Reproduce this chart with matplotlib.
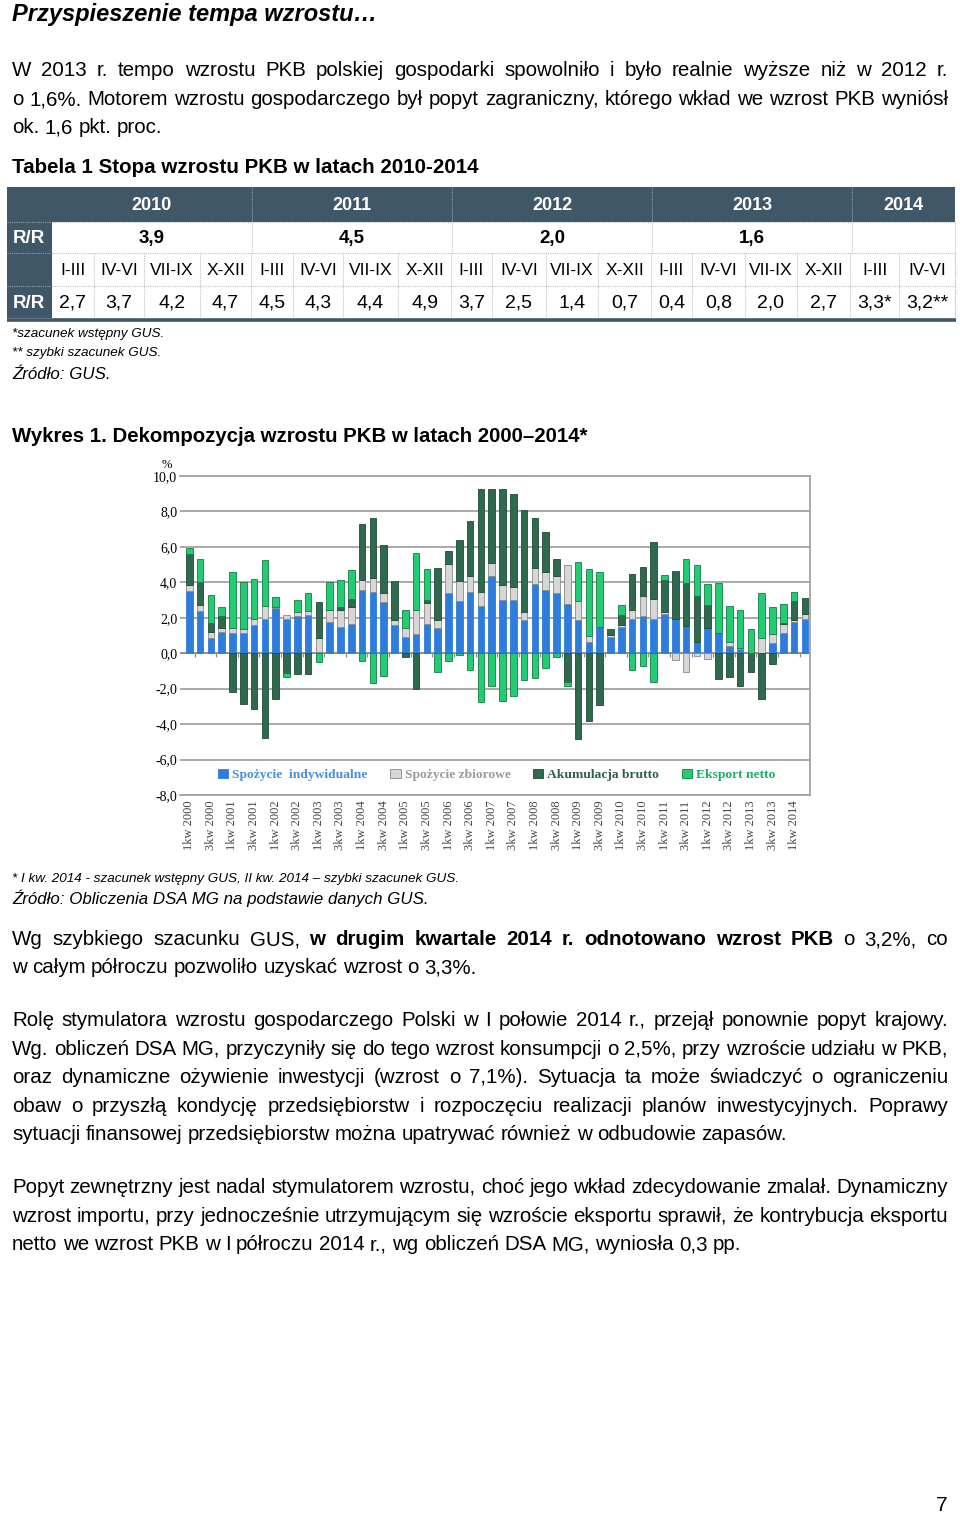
import numpy as np
import matplotlib
matplotlib.use('Agg')
import matplotlib.pyplot as plt
from matplotlib.patches import Rectangle

# ---------------- data ----------------
tick_labels = ["1kw 2000", "3kw 2000", "1kw 2001", "3kw 2001", "1kw 2002", "3kw 2002",
               "1kw 2003", "3kw 2003", "1kw 2004", "3kw 2004", "1kw 2005", "3kw 2005",
               "1kw 2006", "3kw 2006", "1kw 2007", "3kw 2007", "1kw 2008", "3kw 2008",
               "1kw 2009", "3kw 2009", "1kw 2010", "3kw 2010", "1kw 2011", "3kw 2011",
               "1kw 2012", "3kw 2012", "1kw 2013", "3kw 2013", "1kw 2014"]
n_quarters = 58

spozycie_ind = [3.5, 2.4, 0.88, 1.17, 1.13, 1.13, 1.57, 1.94, 2.55, 1.93, 2.1, 2.13, 0.05, 1.78,
                1.5, 1.64, 3.54, 3.45, 2.88, 1.58, 0.92, 1.1, 1.64, 1.42, 3.4, 2.96, 3.47, 2.68,
                4.36, 2.98, 2.98, 1.85, 3.89, 3.57, 3.4, 2.75, 1.85, 0.66, 1.47, 0.9, 1.5, 1.94,
                2.09, 1.91, 2.2, 1.91, 1.51, 0.62, 1.43, 1.15, 0.4, 0.22, 0.0, 0.0, 0.57, 1.13,
                1.75, 1.91]
spozycie_zb = [0.35, 0.3, 0.34, 0.26, 0.28, 0.25, 0.37, 0.7, 0.05, 0.25, 0.25, 0.27, 0.83, 0.67,
               0.93, 0.98, 0.6, 0.78, 0.5, 0.32, 0.53, 1.33, 1.22, 0.47, 1.66, 1.1, 0.9, 0.76,
               0.75, 0.85, 0.76, 0.47, 0.94, 1.0, 0.98, 2.21, 1.09, 0.3, 0.0, 0.15, 0.12, 0.5,
               1.15, 1.17, 0.12, -0.38, -1.04, -0.13, -0.32, 0.0, 0.22, 0.06, 0.0, 0.88, 0.49,
               0.5, 0.13, 0.32]
akumulacja = [1.75, 1.3, 0.47, 0.66, -2.2, -2.87, -3.15, -4.81, -2.6, -1.13, -1.2, -1.17, 2.0, 0.0,
              0.2, 0.44, 3.15, 3.42, 2.7, 2.15, -0.22, -2.03, 0.12, 2.92, 0.7, 2.33, 3.1, 5.83,
              4.15, 5.43, 5.24, 5.76, 2.81, 2.27, 0.95, -1.64, -4.85, -3.81, -2.92, 0.32, 0.55,
              2.04, 1.62, 3.17, 1.8, 2.71, 2.45, 2.63, 1.27, -1.47, -1.32, -1.83, -1.04, -2.57,
              -0.6, 0.08, 1.08, 0.9]
eksport = [0.35, 1.3, 1.6, 0.53, 3.16, 2.62, 2.26, 2.62, 0.55, -0.19, 0.65, 0.98, -0.5, 1.55,
           1.52, 1.62, -0.42, -1.68, -1.27, 0.0, 0.99, 3.25, 1.75, -1.08, -0.42, -0.12, -0.95,
           -2.77, -1.83, -2.72, -2.43, -1.51, -1.4, -0.83, -0.2, -0.19, 2.21, 3.79, 3.1, 0.0,
           0.57, -0.92, -0.74, -1.6, 0.3, 0.0, 1.36, 1.73, 1.22, 2.8, 2.02, 2.17, 1.38, 2.5,
           1.55, 1.05, 0.49, 0.0]
series_names = ["Spożycie  indywidualne", "Spożycie zbiorowe", "Akumulacja brutto", "Eksport netto"]

table_years = ["2010", "2011", "2012", "2013", "2014"]
table_annual = ["3,9", "4,5", "2,0", "1,6", ""]
table_quarters = ["I-III", "IV-VI", "VII-IX", "X-XII"] * 4 + ["I-III", "IV-VI"]
table_qvalues = ["2,7", "3,7", "4,2", "4,7", "4,5", "4,3", "4,4", "4,9", "3,7", "2,5", "1,4",
                 "0,7", "0,4", "0,8", "2,0", "2,7", "3,3*", "3,2**"]

# ---------------- fonts ----------------
SANS = ['Liberation Sans', 'DejaVu Sans']
SERIF = ['Liberation Serif', 'DejaVu Serif']

W, H = 960, 1514
fig = plt.figure(figsize=(W / 100, H / 100), dpi=100)
page = fig.add_axes([0, 0, 1, 1])
page.set_xlim(0, W)
page.set_ylim(H, 0)
page.axis('off')
renderer = fig.canvas.get_renderer()


def txt(x, y, s, size, weight='normal', style='normal', ha='left', va='baseline', color='black',
        family=None):
    return page.text(x, y, s, fontsize=size, fontweight=weight, fontstyle=style, ha=ha, va=va,
                     color=color, family=family or SANS)


def line(runs, y, size, justify, x0=12, x1=948):
    words = []
    for s, w in runs:
        for t in s.split():
            words.append((t, w))
    objs = [txt(0, y, t, size, weight=w) for t, w in words]
    widths = [o.get_window_extent(renderer).width for o in objs]
    total = sum(widths)
    if justify and len(objs) > 1:
        gap = (x1 - x0 - total) / (len(objs) - 1)
    else:
        gap = 0.26 * size * 100 / 72
    x = x0
    for o, wd in zip(objs, widths):
        o.set_x(x)
        x += wd + gap


BODY = 14.8
# title
txt(12, 21, "Przyspieszenie tempa wzrostu…", 17, weight='bold', style='italic')
# paragraph 1
line([("W 2013 r. tempo wzrostu PKB polskiej gospodarki spowolniło i było realnie wyższe niż w 2012 r.", 'normal')], 76, BODY, True)
line([("o 1,6%. Motorem wzrostu gospodarczego był popyt zagraniczny, którego wkład we wzrost PKB wyniósł", 'normal')], 105, BODY, True)
line([("ok. 1,6 pkt. proc.", 'normal')], 133, BODY, False)
txt(12, 173, "Tabela 1 Stopa wzrostu PKB w latach 2010-2014", 14.75, weight='bold')

# ---------------- table ----------------
DARK = '#405767'
GRID = '#b9c3c9'
qb = [52, 94, 144, 200, 251, 293, 343, 398, 451, 492, 546, 598, 651, 692, 745, 797, 850, 899, 955]
yb = [252, 452, 652, 852]
r0, r1, r2, r3, r4 = 187, 222, 253, 286, 318
page.add_patch(Rectangle((7, r0), 955 - 7, r1 - r0, color=DARK, lw=0))
page.add_patch(Rectangle((7, r0), 52 - 7, r4 - r0, color=DARK, lw=0))
for xv in yb:
    page.plot([xv, xv], [r0, r1], color='#8fa0ab', lw=0.8, ls=(0, (1, 1)))
    page.plot([xv, xv], [r1, r2], color=GRID, lw=0.8, ls=(0, (1, 1)))
for xv in qb[1:]:
    page.plot([xv, xv], [r2, r4], color=GRID, lw=0.8, ls=(0, (1, 1)))
page.plot([955, 955], [r1, r4], color=GRID, lw=0.8, ls=(0, (1, 1)))
for yv in (r1, r2, r3):
    page.plot([52, 955], [yv, yv], color=GRID, lw=0.8, ls=(0, (1, 1)))
    page.plot([7, 52], [yv, yv], color='#8fa0ab', lw=0.8, ls=(0, (1, 1)))
page.plot([7, 956], [r4 + 1.5, r4 + 1.5], color=DARK, lw=2.6, solid_capstyle='butt')

ycent = [(r0 + r1) / 2, (r1 + r2) / 2, (r2 + r3) / 2, (r3 + r4) / 2]
year_edges = [52] + yb + [955]
for i, ylab in enumerate(table_years):
    xc = (year_edges[i] + year_edges[i + 1]) / 2
    txt(xc, ycent[0] + 1, ylab, 13, weight='bold', color='white', ha='center', va='center')
    if table_annual[i]:
        txt(xc, ycent[1] + 1, table_annual[i], 13.5, weight='bold', ha='center', va='center')
txt(29, ycent[1] + 1, "R/R", 13.5, weight='bold', color='white', ha='center', va='center')
txt(29, ycent[3] + 1, "R/R", 13.5, weight='bold', color='white', ha='center', va='center')
for i in range(len(table_quarters)):
    xc = (qb[i] + qb[i + 1]) / 2
    txt(xc, ycent[2] + 1, table_quarters[i], 12.5, ha='center', va='center')
    txt(xc, ycent[3] + 1, table_qvalues[i], 14, ha='center', va='center')

txt(12, 337, "*szacunek wstępny GUS.", 9.7, style='italic')
txt(12, 356, "** szybki szacunek GUS.", 9.7, style='italic')
txt(12, 379, "Źródło: GUS.", 12.2, style='italic')

txt(12, 442, "Wykres 1. Dekompozycja wzrostu PKB w latach 2000–2014*", 14.7, weight='bold')

# ---------------- chart ----------------
ax = fig.add_axes([180 / W, 1 - 795 / H, 630 / W, (795 - 476) / H])
x = np.arange(n_quarters)
data = [np.array(spozycie_ind), np.array(spozycie_zb), np.array(akumulacja), np.array(eksport)]
colors = ['#2e7ddc', '#d6d6d6', '#2f6a4f', '#22cc72']
edges = ['#2e7ddc', '#8a8a8a', '#1f4a36', '#177a45']
text_colors = ['#4b8fd8', '#9a9a9a', '#2f5f48', '#1cae66']
pos_base = np.zeros(n_quarters)
neg_base = np.zeros(n_quarters)
handles = []
for vals, c, ec, name in zip(data, colors, edges, series_names):
    bottoms = np.where(vals >= 0, pos_base, neg_base)
    b = ax.bar(x, vals, bottom=bottoms, width=0.62, color=c, edgecolor=ec, linewidth=0.6,
               label=name, zorder=3)
    handles.append(b)
    pos_base = pos_base + np.where(vals >= 0, vals, 0)
    neg_base = neg_base + np.where(vals < 0, vals, 0)

ax.set_xlim(-0.86, 57.47)
ax.set_ylim(-8, 10)
yt = np.arange(-8, 11, 2)
ax.set_yticks(yt)
ax.set_yticklabels([f"{v:.1f}".replace('.', ',') for v in yt], fontsize=10, family=SERIF)
ax.set_xticks(np.arange(0, n_quarters, 2))
ax.set_xticklabels(tick_labels, rotation=90, fontsize=9, family=SERIF, color='#444444')
ax.tick_params(axis='both', length=0)
ax.tick_params(axis='x', pad=4)
ax.tick_params(axis='y', pad=2)
ax.yaxis.grid(True, color='#a3a3a3', lw=1.3, zorder=0)
ax.set_axisbelow(True)
ax.spines['left'].set_visible(False)
for s in ('top', 'right', 'bottom'):
    ax.spines[s].set_color('#a3a3a3')
    ax.spines[s].set_linewidth(1.3)
ax.axhline(0, color='#8c8c8c', lw=1.2, zorder=2)
ax.vlines(np.arange(0.5, n_quarters, 2), -0.2, 0, color='#8c8c8c', lw=0.9, zorder=2)

leg = ax.legend(handles=handles, loc='center', bbox_to_anchor=(0.503, 0.063), ncol=4,
                frameon=False, handlelength=0.75, handleheight=0.75, handletextpad=0.3,
                columnspacing=1.7, prop={'family': SERIF, 'weight': 'bold', 'size': 9.7})
for t, c in zip(leg.get_texts(), text_colors):
    t.set_color(c)

page.text(167, 468, "%", fontsize=9, family=SERIF, ha='center', va='baseline')

# ---------------- text below chart ----------------
txt(12, 882, "* I kw. 2014 - szacunek wstępny GUS, II kw. 2014 – szybki szacunek GUS.", 9.7, style='italic')
txt(12, 904, "Źródło: Obliczenia DSA MG na podstawie danych GUS.", 12.2, style='italic')

line([("Wg szybkiego szacunku GUS,", 'normal'), ("w drugim kwartale 2014 r. odnotowano wzrost PKB", 'bold'),
      ("o 3,2%, co", 'normal')], 945, BODY, True)
line([("w całym półroczu pozwoliło uzyskać wzrost o 3,3%.", 'normal')], 973, BODY, False)

para2 = ["Rolę stymulatora wzrostu gospodarczego Polski w I połowie 2014 r., przejął ponownie popyt krajowy.",
         "Wg. obliczeń DSA MG, przyczyniły się do tego wzrost konsumpcji o 2,5%, przy wzroście udziału w PKB,",
         "oraz dynamiczne ożywienie inwestycji (wzrost o 7,1%). Sytuacja ta może świadczyć o ograniczeniu",
         "obaw o przyszłą kondycję przedsiębiorstw i rozpoczęciu realizacji planów inwestycyjnych. Poprawy",
         "sytuacji finansowej przedsiębiorstw można upatrywać również w odbudowie zapasów."]
for i, s in enumerate(para2):
    line([(s, 'normal')], 1026 + i * 28.6, BODY, i < len(para2) - 1)

para3 = ["Popyt zewnętrzny jest nadal stymulatorem wzrostu, choć jego wkład zdecydowanie zmalał. Dynamiczny",
         "wzrost importu, przy jednocześnie utrzymującym się wzroście eksportu sprawił, że kontrybucja eksportu",
         "netto we wzrost PKB w I półroczu 2014 r., wg obliczeń DSA MG, wyniosła 0,3 pp."]
for i, s in enumerate(para3):
    line([(s, 'normal')], 1193 + i * 28.6, BODY, i < len(para3) - 1)

txt(942, 1511, "7", 15, ha='center')

fig.savefig('out.png', dpi=100)
